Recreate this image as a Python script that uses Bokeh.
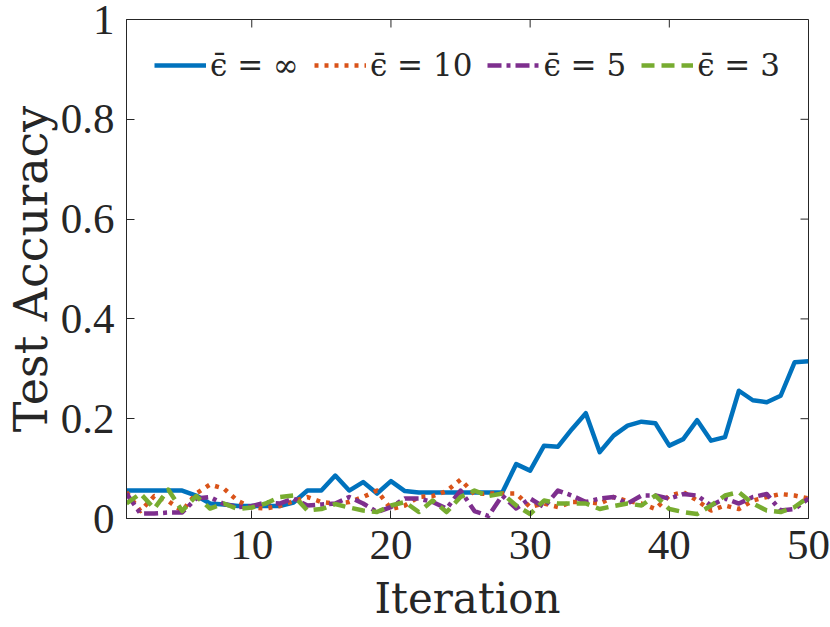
import math
from bokeh.plotting import figure
from bokeh.models import (FixedTicker, LinearAxis, Legend, LegendItem,
                          CustomJSTickFormatter, Range1d)
from bokeh.embed import file_html
from bokeh.resources import INLINE

iterations = list(range(1, 51))

acc_inf = [0.056, 0.056, 0.056, 0.056, 0.056, 0.046, 0.030, 0.028, 0.025, 0.025,
           0.025, 0.025, 0.032, 0.056, 0.056, 0.086, 0.056, 0.073, 0.050, 0.075,
           0.055, 0.052, 0.052, 0.052, 0.052, 0.052, 0.052, 0.052, 0.109, 0.096,
           0.146, 0.144, 0.179, 0.211, 0.133, 0.166, 0.186, 0.194, 0.191, 0.146,
           0.159, 0.197, 0.156, 0.163, 0.256, 0.237, 0.233, 0.246, 0.313, 0.315]

acc_10 = [0.053, 0.015, 0.045, 0.035, 0.015, 0.050, 0.068, 0.060, 0.035, 0.022,
          0.020, 0.025, 0.035, 0.043, 0.033, 0.030, 0.033, 0.043, 0.056, 0.019,
          0.026, 0.043, 0.045, 0.055, 0.078, 0.049, 0.050, 0.050, 0.050, 0.023,
          0.030, 0.023, 0.033, 0.033, 0.030, 0.043, 0.035, 0.030, 0.019, 0.046,
          0.053, 0.036, 0.016, 0.026, 0.019, 0.036, 0.043, 0.049, 0.046, 0.040]

acc_5 = [0.050, 0.010, 0.010, 0.012, 0.012, 0.040, 0.043, 0.029, 0.023, 0.025,
         0.032, 0.030, 0.040, 0.026, 0.028, 0.030, 0.043, 0.030, 0.013, 0.023,
         0.040, 0.040, 0.033, 0.020, 0.056, 0.015, 0.005, 0.046, 0.020, 0.040,
         0.023, 0.056, 0.046, 0.033, 0.040, 0.043, 0.030, 0.046, 0.046, 0.040,
         0.049, 0.046, 0.026, 0.040, 0.030, 0.043, 0.049, 0.016, 0.019, 0.040]

acc_3 = [0.030, 0.050, 0.020, 0.058, 0.015, 0.045, 0.020, 0.030, 0.019, 0.022,
         0.030, 0.043, 0.046, 0.016, 0.019, 0.029, 0.022, 0.016, 0.013, 0.026,
         0.033, 0.013, 0.036, 0.013, 0.043, 0.056, 0.045, 0.050, 0.026, 0.009,
         0.036, 0.030, 0.030, 0.030, 0.019, 0.025, 0.030, 0.026, 0.046, 0.019,
         0.013, 0.009, 0.026, 0.046, 0.053, 0.030, 0.016, 0.013, 0.023, 0.043]

labels = ["\u03f5\u0304 = \u221e", "\u03f5\u0304 = 10", "\u03f5\u0304 = 5", "\u03f5\u0304 = 3"]
x_ticks = [10, 20, 30, 40, 50]
y_ticks = [0, 0.2, 0.4, 0.6, 0.8, 1]
x_label = "Iteration"
y_label = "Test Accuracy"

FONT = "Liberation Serif"
LABFONT = "DejaVu Serif"
AX = "#262626"

x0, x1 = iterations[0], iterations[-1]
y0, y1 = y_ticks[0], y_ticks[-1]

p = figure(width=830, height=627, output_backend="svg", toolbar_location=None,
           x_range=Range1d(x0, x1), y_range=Range1d(y0, y1),
           min_border_left=126, min_border_right=22, min_border_top=19,
           min_border_bottom=109, x_axis_location=None, y_axis_location=None)
p.grid.visible = False
p.outline_line_color = AX
p.outline_line_width = 1
p.background_fill_color = "white"
p.border_fill_color = "white"

fmt = CustomJSTickFormatter(code="return String(Number(tick.toFixed(1)));")

def style(ax):
    ax.axis_line_color = AX
    ax.axis_line_width = 1
    ax.major_tick_line_color = AX
    ax.major_tick_in = 8
    ax.major_tick_out = 0
    ax.minor_tick_line_color = None
    ax.major_label_text_font = FONT
    ax.major_label_text_color = AX
    ax.major_label_text_font_size = "43px"
    ax.major_label_standoff = 12
    ax.axis_label_text_font = LABFONT
    ax.axis_label_text_color = AX
    ax.axis_label_text_font_style = "normal"

xb = LinearAxis(ticker=FixedTicker(ticks=x_ticks), formatter=fmt, axis_label=x_label)
style(xb)
xb.axis_label_text_font_size = "42px"
xb.axis_label_standoff = 12
p.add_layout(xb, "below")

yl = LinearAxis(ticker=FixedTicker(ticks=y_ticks), formatter=fmt, axis_label=y_label)
style(yl)
yl.axis_label_text_font_size = "46px"
yl.axis_label_standoff = 0
p.add_layout(yl, "left")

# mirrored inward ticks on the top and right edges of the box
p.ray(x=x_ticks, y=[y1] * len(x_ticks), length=8, length_units="screen",
      angle=-math.pi / 2, line_color=AX, line_width=1)
p.ray(x=[x1] * len(y_ticks), y=y_ticks, length=8, length_units="screen",
      angle=math.pi, line_color=AX, line_width=1)

series = [acc_inf, acc_10, acc_5, acc_3]
colors = ["#0072BD", "#D95319", "#7E2F8E", "#77AC30"]
dashes = ["solid", "4 6", "14 5 4 5", "13 7"]
items = []
for ys, c, d, lab in zip(series, colors, dashes, labels):
    r = p.line(iterations, ys, line_color=c, line_width=4.5, line_dash=d,
               line_join="round", line_cap="butt")
    items.append(LegendItem(label=lab, renderers=[r]))

leg = Legend(items=items, orientation="horizontal", location="top_left",
             margin=0, padding=28, spacing=15, label_standoff=4,
             glyph_width=52, glyph_height=20,
             label_text_font=LABFONT, label_text_font_size="31px",
             label_text_color=AX, background_fill_alpha=0,
             border_line_alpha=0)
p.add_layout(leg, "center")

open("out.html", "w").write(file_html(p, INLINE))
